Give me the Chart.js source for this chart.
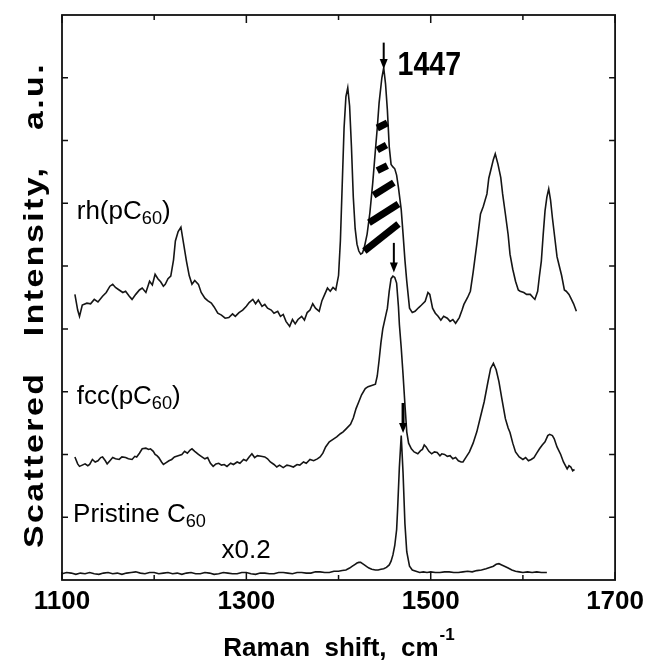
<!DOCTYPE html>
<html>
<head>
<meta charset="utf-8">
<script src="https://cdn.jsdelivr.net/npm/chart.js@4.4.1/dist/chart.umd.min.js"></script>
<style>
    html, body { margin: 0; padding: 0; background: #ffffff; }
    #wrap { width: 650px; height: 664px; }
</style>
</head>
<body>
<div id="wrap"><canvas id="ramanChart" width="650" height="664"></canvas></div>
<script>
// --- datos (Raman shift en cm-1, intensidad en unidades arbitrarias) ---
const rhShift = [1114, 1117, 1119, 1122, 1127, 1131, 1135, 1139, 1144, 1148, 1152, 1155, 1158, 1162, 1166, 1169, 1173, 1176, 1180, 1184, 1187, 1191, 1195, 1198, 1201, 1204, 1207, 1210, 1212, 1215, 1218, 1221, 1223, 1226, 1229, 1232, 1235, 1238, 1241, 1244, 1248, 1251, 1255, 1258, 1262, 1265, 1269, 1273, 1277, 1281, 1285, 1288, 1292, 1296, 1300, 1303, 1307, 1310, 1313, 1317, 1320, 1323, 1327, 1330, 1334, 1337, 1340, 1343, 1347, 1350, 1353, 1356, 1360, 1363, 1366, 1369, 1372, 1375, 1379, 1382, 1385, 1388, 1391, 1394, 1397, 1400, 1402, 1404, 1406, 1408, 1410, 1412, 1414, 1416, 1418, 1420, 1422, 1424, 1426, 1428, 1431, 1434, 1437, 1440, 1442, 1444, 1447, 1449, 1451, 1453, 1455, 1457, 1459, 1461, 1463, 1465, 1468, 1470, 1472, 1474, 1477, 1480, 1483, 1487, 1490, 1494, 1497, 1499, 1502, 1505, 1508, 1511, 1514, 1518, 1521, 1524, 1527, 1531, 1534, 1536, 1540, 1543, 1546, 1550, 1554, 1557, 1561, 1563, 1565, 1568, 1570, 1573, 1576, 1578, 1581, 1584, 1586, 1589, 1592, 1595, 1597, 1601, 1604, 1608, 1611, 1613, 1616, 1618, 1620, 1622, 1624, 1626, 1628, 1630, 1632, 1635, 1637, 1640, 1642, 1645, 1647, 1650, 1652, 1655, 1658];
const rhIntensity = [4.55, 4.30, 4.20, 4.38, 4.41, 4.40, 4.47, 4.43, 4.52, 4.58, 4.68, 4.71, 4.66, 4.62, 4.58, 4.60, 4.52, 4.47, 4.55, 4.62, 4.65, 4.58, 4.76, 4.70, 4.87, 4.80, 4.75, 4.68, 4.71, 4.80, 4.84, 5.10, 5.40, 5.55, 5.62, 5.35, 5.08, 4.85, 4.71, 4.77, 4.71, 4.58, 4.49, 4.45, 4.41, 4.35, 4.25, 4.22, 4.17, 4.18, 4.24, 4.20, 4.26, 4.30, 4.36, 4.42, 4.47, 4.40, 4.46, 4.36, 4.39, 4.33, 4.30, 4.25, 4.28, 4.20, 4.23, 4.12, 4.04, 4.15, 4.08, 4.15, 4.20, 4.14, 4.26, 4.30, 4.40, 4.33, 4.28, 4.45, 4.55, 4.65, 4.60, 4.66, 4.62, 4.85, 5.40, 6.30, 7.20, 7.70, 7.84, 7.55, 6.90, 6.10, 5.60, 5.35, 5.24, 5.19, 5.21, 5.30, 5.51, 5.85, 6.31, 6.85, 7.20, 7.60, 8.00, 8.16, 7.90, 7.48, 6.90, 6.62, 6.58, 6.55, 6.45, 6.25, 5.90, 5.51, 5.10, 4.76, 4.33, 4.26, 4.28, 4.34, 4.38, 4.44, 4.58, 4.55, 4.33, 4.25, 4.20, 4.14, 4.20, 4.17, 4.12, 4.15, 4.09, 4.18, 4.30, 4.39, 4.50, 4.60, 4.90, 5.35, 5.83, 5.95, 6.15, 6.40, 6.52, 6.70, 6.79, 6.62, 6.41, 6.15, 5.83, 5.50, 5.19, 4.95, 4.76, 4.62, 4.60, 4.58, 4.55, 4.55, 4.50, 4.47, 4.60, 4.85, 5.08, 5.50, 5.88, 6.10, 6.23, 6.05, 5.77, 5.40, 5.15, 4.97, 4.85, 4.62, 4.60, 4.55, 4.49, 4.40, 4.28];

const fccShift = [1114, 1117, 1119, 1122, 1125, 1128, 1130, 1133, 1136, 1139, 1142, 1144, 1147, 1149, 1152, 1155, 1158, 1162, 1165, 1169, 1172, 1176, 1179, 1181, 1184, 1187, 1191, 1194, 1196, 1199, 1201, 1203, 1205, 1208, 1210, 1213, 1216, 1219, 1222, 1226, 1230, 1233, 1236, 1239, 1241, 1244, 1248, 1251, 1255, 1258, 1261, 1264, 1267, 1270, 1273, 1276, 1279, 1283, 1286, 1290, 1293, 1297, 1300, 1303, 1306, 1309, 1312, 1316, 1320, 1323, 1326, 1330, 1333, 1336, 1340, 1344, 1347, 1351, 1355, 1358, 1362, 1365, 1369, 1373, 1377, 1380, 1383, 1386, 1390, 1394, 1398, 1402, 1405, 1409, 1413, 1416, 1419, 1422, 1425, 1429, 1432, 1436, 1440, 1442, 1444, 1446, 1448, 1451, 1453, 1455, 1457, 1459, 1461, 1463, 1465, 1466, 1468, 1470, 1472, 1474, 1476, 1479, 1482, 1486, 1489, 1491, 1493, 1495, 1498, 1501, 1504, 1507, 1510, 1512, 1515, 1518, 1521, 1524, 1527, 1530, 1533, 1535, 1538, 1542, 1546, 1550, 1554, 1558, 1562, 1565, 1568, 1571, 1574, 1577, 1581, 1584, 1586, 1589, 1592, 1596, 1600, 1603, 1606, 1609, 1612, 1615, 1618, 1621, 1624, 1627, 1629, 1632, 1634, 1637, 1641, 1644, 1648, 1650, 1652, 1654, 1656];
const fccIntensity = [1.96, 1.85, 1.81, 1.83, 1.85, 1.82, 1.84, 1.92, 1.88, 1.90, 1.95, 1.96, 1.90, 1.85, 1.90, 1.95, 1.93, 1.92, 1.96, 1.95, 1.93, 1.92, 1.97, 1.96, 2.02, 2.09, 2.10, 2.08, 2.09, 2.05, 2.00, 1.98, 1.95, 1.88, 1.84, 1.87, 1.90, 1.92, 1.96, 1.98, 2.00, 2.05, 2.02, 2.07, 2.09, 2.05, 2.00, 1.97, 1.93, 1.95, 1.86, 1.81, 1.85, 1.86, 1.83, 1.84, 1.81, 1.86, 1.84, 1.88, 1.86, 1.92, 1.90, 1.96, 2.01, 1.95, 1.98, 1.97, 1.96, 1.93, 1.88, 1.84, 1.80, 1.83, 1.79, 1.83, 1.82, 1.80, 1.84, 1.83, 1.88, 1.86, 1.92, 1.90, 1.93, 1.96, 2.02, 2.12, 2.20, 2.24, 2.28, 2.33, 2.36, 2.42, 2.48, 2.58, 2.73, 2.84, 2.95, 3.05, 3.08, 3.10, 3.12, 3.25, 3.50, 3.78, 4.00, 4.20, 4.33, 4.60, 4.80, 4.84, 4.82, 4.73, 4.35, 4.07, 3.70, 3.27, 2.80, 2.36, 2.18, 2.09, 2.04, 2.01, 2.06, 2.08, 2.15, 2.12, 2.05, 2.01, 2.04, 2.03, 1.98, 2.01, 2.00, 1.97, 1.98, 1.93, 1.95, 1.90, 1.88, 1.88, 1.95, 2.04, 2.18, 2.36, 2.60, 2.84, 3.15, 3.37, 3.45, 3.35, 3.16, 2.90, 2.57, 2.42, 2.35, 2.18, 2.04, 1.96, 1.92, 1.95, 1.90, 1.92, 1.95, 2.02, 2.09, 2.15, 2.20, 2.30, 2.32, 2.30, 2.25, 2.12, 2.00, 1.88, 1.77, 1.82, 1.80, 1.74, 1.76];

const pristineShift = [1100, 1105, 1110, 1115, 1120, 1125, 1130, 1135, 1140, 1145, 1150, 1155, 1160, 1165, 1170, 1175, 1180, 1185, 1190, 1195, 1200, 1205, 1210, 1215, 1220, 1225, 1230, 1235, 1240, 1245, 1250, 1255, 1260, 1265, 1270, 1275, 1280, 1285, 1290, 1295, 1300, 1305, 1310, 1315, 1320, 1325, 1330, 1335, 1340, 1345, 1350, 1355, 1360, 1365, 1370, 1375, 1380, 1385, 1390, 1395, 1400, 1404, 1408, 1412, 1415, 1418, 1420, 1422, 1424, 1426, 1428, 1431, 1433, 1436, 1440, 1443, 1446, 1449, 1452, 1455, 1457, 1459, 1461, 1463, 1464, 1466, 1468, 1470, 1472, 1474, 1477, 1480, 1484, 1488, 1492, 1496, 1500, 1505, 1510, 1515, 1520, 1525, 1530, 1535, 1540, 1545, 1550, 1555, 1560, 1564, 1568, 1571, 1574, 1577, 1580, 1584, 1588, 1592, 1596, 1600, 1605, 1610, 1615, 1620, 1626];
const pristineIntensity = [0.10, 0.12, 0.11, 0.09, 0.11, 0.10, 0.12, 0.10, 0.09, 0.11, 0.12, 0.10, 0.11, 0.09, 0.11, 0.12, 0.13, 0.11, 0.10, 0.12, 0.12, 0.10, 0.11, 0.12, 0.10, 0.11, 0.09, 0.11, 0.12, 0.10, 0.10, 0.12, 0.11, 0.09, 0.10, 0.12, 0.11, 0.10, 0.10, 0.12, 0.12, 0.10, 0.09, 0.11, 0.11, 0.10, 0.10, 0.12, 0.12, 0.11, 0.10, 0.12, 0.12, 0.11, 0.11, 0.13, 0.13, 0.12, 0.12, 0.14, 0.14, 0.15, 0.16, 0.19, 0.22, 0.25, 0.27, 0.28, 0.28, 0.26, 0.24, 0.21, 0.19, 0.17, 0.16, 0.16, 0.17, 0.18, 0.20, 0.24, 0.30, 0.40, 0.55, 0.80, 1.10, 1.80, 2.30, 1.70, 0.90, 0.45, 0.22, 0.16, 0.14, 0.12, 0.13, 0.12, 0.13, 0.12, 0.12, 0.13, 0.13, 0.12, 0.12, 0.13, 0.14, 0.13, 0.15, 0.16, 0.18, 0.20, 0.22, 0.25, 0.26, 0.24, 0.22, 0.19, 0.16, 0.14, 0.13, 0.12, 0.13, 0.12, 0.13, 0.12, 0.12];

// ejes
const xTickLabels = [1100, 1300, 1500, 1700];
const xMinorTicks = [1200, 1400, 1600];
const yTicks = [1, 2, 3, 4, 5, 6, 7, 8];

// anotaciones (en unidades de datos)
const arrowShift = [1449, 1460, 1470];
const arrowTop = [8.56, 5.37, 2.82];
const arrowTip = [8.14, 4.90, 2.34];
const hatchFrom = [[1442, 7.20], [1442, 6.85], [1442, 6.52], [1438, 6.13], [1433, 5.69], [1428, 5.24]];
const hatchTo = [[1453, 7.28], [1452, 6.93], [1453, 6.60], [1460, 6.33], [1465, 5.99], [1465, 5.67]];

const FONT = '"Liberation Sans", Arial, Helvetica, sans-serif';

function toPoints(xs, ys) {
    return xs.map((x, i) => ({ x: x, y: ys[i] }));
}

// texto con subíndice: partes [texto, esSub]
function drawParts(ctx, parts, x, y, size, weight) {
    let cx = x;
    parts.forEach(p => {
        const fs = p[1] ? size * 0.7 : size;
        ctx.font = (weight || 'normal') + ' ' + fs + 'px ' + FONT;
        ctx.fillText(p[0], cx, y + (p[1] ? size * 0.2 : 0));
        cx += ctx.measureText(p[0]).width;
    });
}

const framePlugin = {
    id: 'frame',
    afterDatasetsDraw(chart) {
        const { ctx, chartArea: a, scales: { x, y } } = chart;
        ctx.save();
        ctx.strokeStyle = '#111';
        ctx.lineWidth = 1.8;
        ctx.strokeRect(a.left, a.top, a.right - a.left, a.bottom - a.top);
        ctx.lineWidth = 1.5;
        ctx.beginPath();
        xTickLabels.concat(xMinorTicks).forEach(v => {
            const px = x.getPixelForValue(v);
            const len = xMinorTicks.includes(v) ? 5 : 8;
            ctx.moveTo(px, a.bottom); ctx.lineTo(px, a.bottom - len);
            ctx.moveTo(px, a.top); ctx.lineTo(px, a.top + len);
        });
        yTicks.forEach(v => {
            const py = y.getPixelForValue(v);
            ctx.moveTo(a.left, py); ctx.lineTo(a.left + 6, py);
            ctx.moveTo(a.right, py); ctx.lineTo(a.right - 6, py);
        });
        ctx.stroke();
        ctx.restore();
    }
};

const annotationPlugin = {
    id: 'anotaciones',
    afterDraw(chart) {
        const { ctx, chartArea: a, scales: { x, y } } = chart;
        ctx.save();
        ctx.fillStyle = '#000';
        ctx.strokeStyle = '#000';

        // rayado sobre el pico de 1447
        ctx.lineWidth = 7;
        ctx.lineCap = 'butt';
        hatchFrom.forEach((p, i) => {
            ctx.beginPath();
            ctx.moveTo(x.getPixelForValue(p[0]), y.getPixelForValue(p[1]));
            ctx.lineTo(x.getPixelForValue(hatchTo[i][0]), y.getPixelForValue(hatchTo[i][1]));
            ctx.stroke();
        });

        // flechas
        arrowShift.forEach((s, i) => {
            const px = x.getPixelForValue(s);
            const top = y.getPixelForValue(arrowTop[i]);
            const tip = y.getPixelForValue(arrowTip[i]);
            ctx.lineWidth = i === 2 ? 3 : 2;
            ctx.beginPath();
            ctx.moveTo(px, top);
            ctx.lineTo(px, tip - 8);
            ctx.stroke();
            ctx.beginPath();
            ctx.moveTo(px - 4, tip - 10);
            ctx.lineTo(px + 4, tip - 10);
            ctx.lineTo(px, tip);
            ctx.closePath();
            ctx.fill();
        });

        // etiquetas
        ctx.textBaseline = 'alphabetic';
        ctx.textAlign = 'left';
        ctx.save();
        ctx.translate(x.getPixelForValue(1464), y.getPixelForValue(8.04));
        ctx.scale(0.84, 1);
        ctx.font = 'bold 34px ' + FONT;
        ctx.fillText('1447', 0, 0);
        ctx.restore();

        drawParts(ctx, [['rh(pC', false], ['60', true], [')', false]], x.getPixelForValue(1116), y.getPixelForValue(5.75), 26);
        drawParts(ctx, [['fcc(pC', false], ['60', true], [')', false]], x.getPixelForValue(1116), y.getPixelForValue(2.81), 26);
        drawParts(ctx, [['Pristine C', false], ['60', true]], x.getPixelForValue(1112), y.getPixelForValue(0.93), 26);
        drawParts(ctx, [['x0.2', false]], x.getPixelForValue(1273), y.getPixelForValue(0.35), 26);

        // título eje x
        const cxTitle = (a.left + a.right) / 2;
        ctx.font = 'bold 26px ' + FONT;
        const main = 'Raman  shift,  cm';
        const wMain = ctx.measureText(main).width;
        ctx.font = 'bold 17px ' + FONT;
        const wSup = ctx.measureText('-1').width;
        const startX = cxTitle - (wMain + wSup) / 2;
        ctx.font = 'bold 26px ' + FONT;
        ctx.fillText(main, startX, 656);
        ctx.font = 'bold 17px ' + FONT;
        ctx.fillText('-1', startX + wMain + 1, 640);

        // título eje y (más espaciado que el del eje x)
        ctx.translate(43, 305);
        ctx.rotate(-Math.PI / 2);
        ctx.font = 'bold 28px ' + FONT;
        ctx.letterSpacing = '2px';
        const yTitle = 'Scattered   Intensity,   a.u.';
        const wY = ctx.measureText(yTitle).width;
        ctx.scale(486 / wY, 1);
        ctx.fillText(yTitle, -wY / 2, 0);
        ctx.restore();
    }
};

document.addEventListener('DOMContentLoaded', function () {
    const canvas = document.getElementById('ramanChart');
    const lineStyle = { borderColor: '#151515', borderWidth: 1.6, pointRadius: 0, tension: 0, fill: false };

    new Chart(canvas.getContext('2d'), {
        type: 'line',
        data: {
            datasets: [
                Object.assign({ label: 'rh(pC60)', data: toPoints(rhShift, rhIntensity) }, lineStyle),
                Object.assign({ label: 'fcc(pC60)', data: toPoints(fccShift, fccIntensity) }, lineStyle),
                Object.assign({ label: 'Pristine C60 x0.2', data: toPoints(pristineShift, pristineIntensity) }, lineStyle)
            ]
        },
        options: {
            responsive: false,
            animation: false,
            devicePixelRatio: 1,
            layout: { padding: { top: 15, right: 27, left: 0, bottom: 0 } },
            plugins: { legend: { display: false }, tooltip: { enabled: false } },
            scales: {
                x: {
                    type: 'linear',
                    min: 1100,
                    max: 1700,
                    afterFit: function (s) { s.height = 84; },
                    grid: { display: false, drawTicks: false },
                    border: { display: false },
                    ticks: {
                        stepSize: 100,
                        autoSkip: false,
                        maxRotation: 0,
                        padding: 6,
                        color: '#000',
                        font: { family: FONT, size: 26, weight: 'bold' },
                        callback: function (value) {
                            return xTickLabels.includes(value) ? String(value) : '';
                        }
                    }
                },
                y: {
                    min: 0,
                    max: 9,
                    afterFit: function (s) { s.width = 62; },
                    grid: { display: false, drawTicks: false },
                    border: { display: false },
                    ticks: { display: false, stepSize: 1 }
                }
            }
        },
        plugins: [framePlugin, annotationPlugin]
    });
});
</script>
</body>
</html>
